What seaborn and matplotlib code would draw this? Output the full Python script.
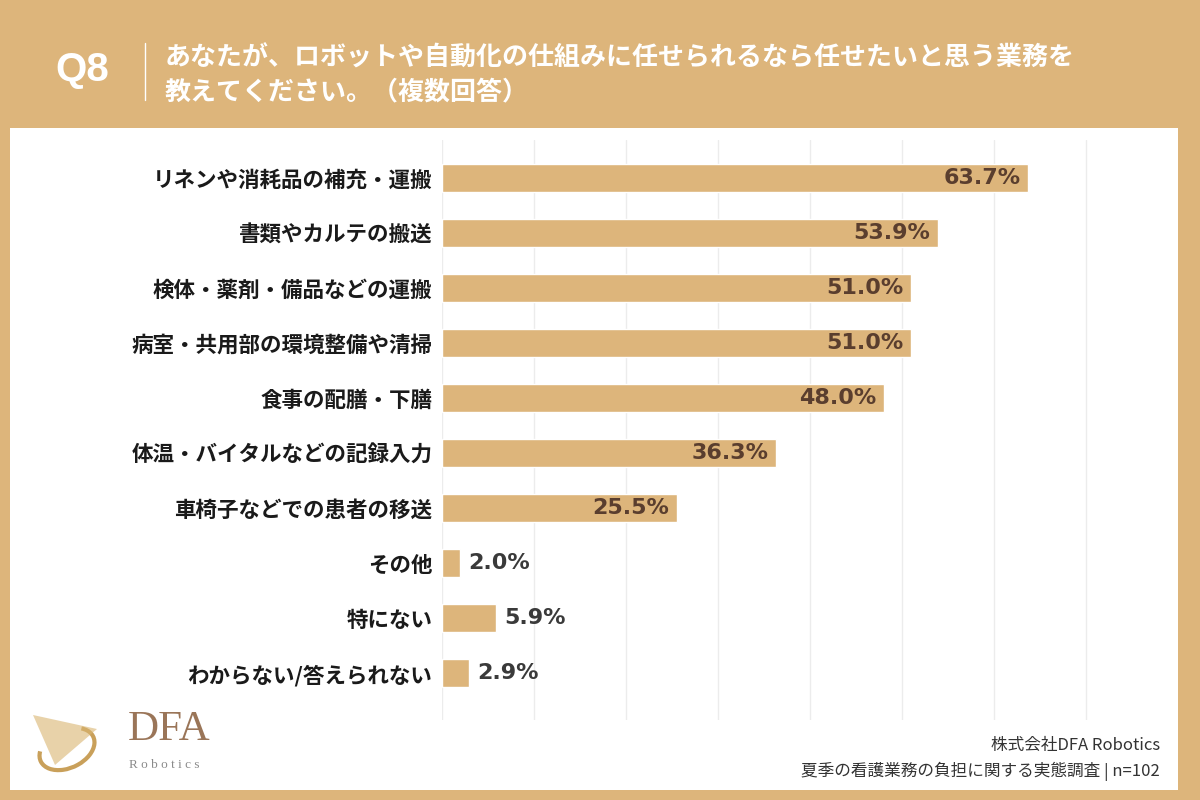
import matplotlib
matplotlib.use("Agg")
import matplotlib.pyplot as plt
import matplotlib.patches as mpatches
import seaborn as sns
import pandas as pd

# データ
categories = [
    "リネンや消耗品の補充・運搬",
    "書類やカルテの搬送",
    "検体・薬剤・備品などの運搬",
    "病室・共用部の環境整備や清掃",
    "食事の配膳・下膳",
    "体温・バイタルなどの記録入力",
    "車椅子などでの患者の移送",
    "その他",
    "特にない",
    "わからない/答えられない",
]
values = [63.7, 53.9, 51.0, 51.0, 48.0, 36.3, 25.5, 2.0, 5.9, 2.9]

question_no = "Q8"
question_text = "あなたが、ロボットや自動化の仕組みに任せられるなら任せたいと思う業務を\n教えてください。（複数回答）"
footer_lines = ["株式会社DFA Robotics", "夏季の看護業務の負担に関する実態調査 | n=102"]

TAN = "#DDB57B"
BAR = "#DDB57B"

sns.set_theme(style="white")
plt.rcParams["font.family"] = ["Noto Sans CJK JP", "DejaVu Sans"]

df = pd.DataFrame({"item": categories, "pct": values})

fig = plt.figure(figsize=(12, 8), dpi=100, facecolor=TAN)

# 白いパネル（軸より後ろに描く）
panel = mpatches.Rectangle((10 / 1200, 1 - 790 / 800), 1168 / 1200, 662 / 800,
                           transform=fig.transFigure, facecolor="white",
                           edgecolor="none", zorder=-5)
fig.patches.append(panel)

# 10% = 約92px
ax = fig.add_axes([442 / 1200, 0.1, 690 / 1200, 0.725])
ax.set_facecolor("none")
sns.barplot(data=df, y="item", x="pct", orient="h", color=BAR, width=0.5,
            saturation=1, ax=ax, zorder=3)

ax.set_xlim(0, 75)
ax.set_ylim(9.85, -0.69)
ax.set_xticks(range(0, 71, 10))
ax.xaxis.grid(True, color="#ececec", linewidth=1, zorder=0)
ax.set_axisbelow(True)
ax.tick_params(axis="x", bottom=False, labelbottom=False)
ax.tick_params(axis="y", left=False, pad=1)
for s in ax.spines.values():
    s.set_visible(False)
ax.set_xlabel("")
ax.set_ylabel("")
for lab in ax.get_yticklabels():
    lab.set_fontweight("bold")
    lab.set_fontsize(15.5)
    lab.set_color("#1a1a1a")

# 値ラベル
num_font = ["DejaVu Sans"]
for i, v in enumerate(values):
    txt = f"{v:.1f}%"
    if v > 15:
        ax.text(v - 0.8, i, txt, ha="right", va="center", fontsize=16,
                fontweight="bold", color="#5a3e2e", zorder=4, family=num_font)
    else:
        ax.text(v + 0.9, i, txt, ha="left", va="center", fontsize=16,
                fontweight="bold", color="#3a3a3a", zorder=4, family=num_font)

# ヘッダー
fig.text(55 / 1200, 1 - 70 / 800, question_no, ha="left", va="center",
         fontsize=29, fontweight="bold", color="white", family=["Liberation Sans"])
fig.add_artist(plt.Line2D([145 / 1200, 145 / 1200], [1 - 43 / 800, 1 - 100 / 800],
                          transform=fig.transFigure, color="white", linewidth=1))
fig.text(165 / 1200, 1 - 75 / 800, question_text, ha="left", va="center",
         fontsize=18.7, fontweight="bold", color="white", linespacing=1.3)

# フッター
fig.text(1160 / 1200, 1 - 745 / 800, footer_lines[0], ha="right", va="center",
         fontsize=12, color="#333333")
fig.text(1160 / 1200, 1 - 771 / 800, footer_lines[1], ha="right", va="center",
         fontsize=12, color="#333333")

# ロゴ
logo_ax = fig.add_axes([25 / 1200, 1 - 785 / 800, 90 / 1200, 80 / 800])
logo_ax.set_xlim(0, 90)
logo_ax.set_ylim(0, 80)
logo_ax.axis("off")
logo_ax.add_patch(mpatches.Arc((42, 36), 58, 38, angle=25, theta1=160, theta2=390,
                               color="#C9A05A", linewidth=3))
logo_ax.add_patch(mpatches.Polygon([[8, 70], [72, 56], [30, 20]], closed=True,
                                   facecolor="#D9B571", edgecolor="none", alpha=0.6))
fig.text(128 / 1200, 1 - 730 / 800, "DFA", ha="left", va="center",
         fontsize=31, color="#9a7558", family=["Liberation Serif", "DejaVu Serif"])
fig.text(129 / 1200, 1 - 765 / 800, "R o b o t i c s", ha="left", va="center",
         fontsize=9.5, color="#8a8a8a", family=["Liberation Serif", "DejaVu Serif"])

fig.savefig("out.png", dpi=100, facecolor=TAN)
